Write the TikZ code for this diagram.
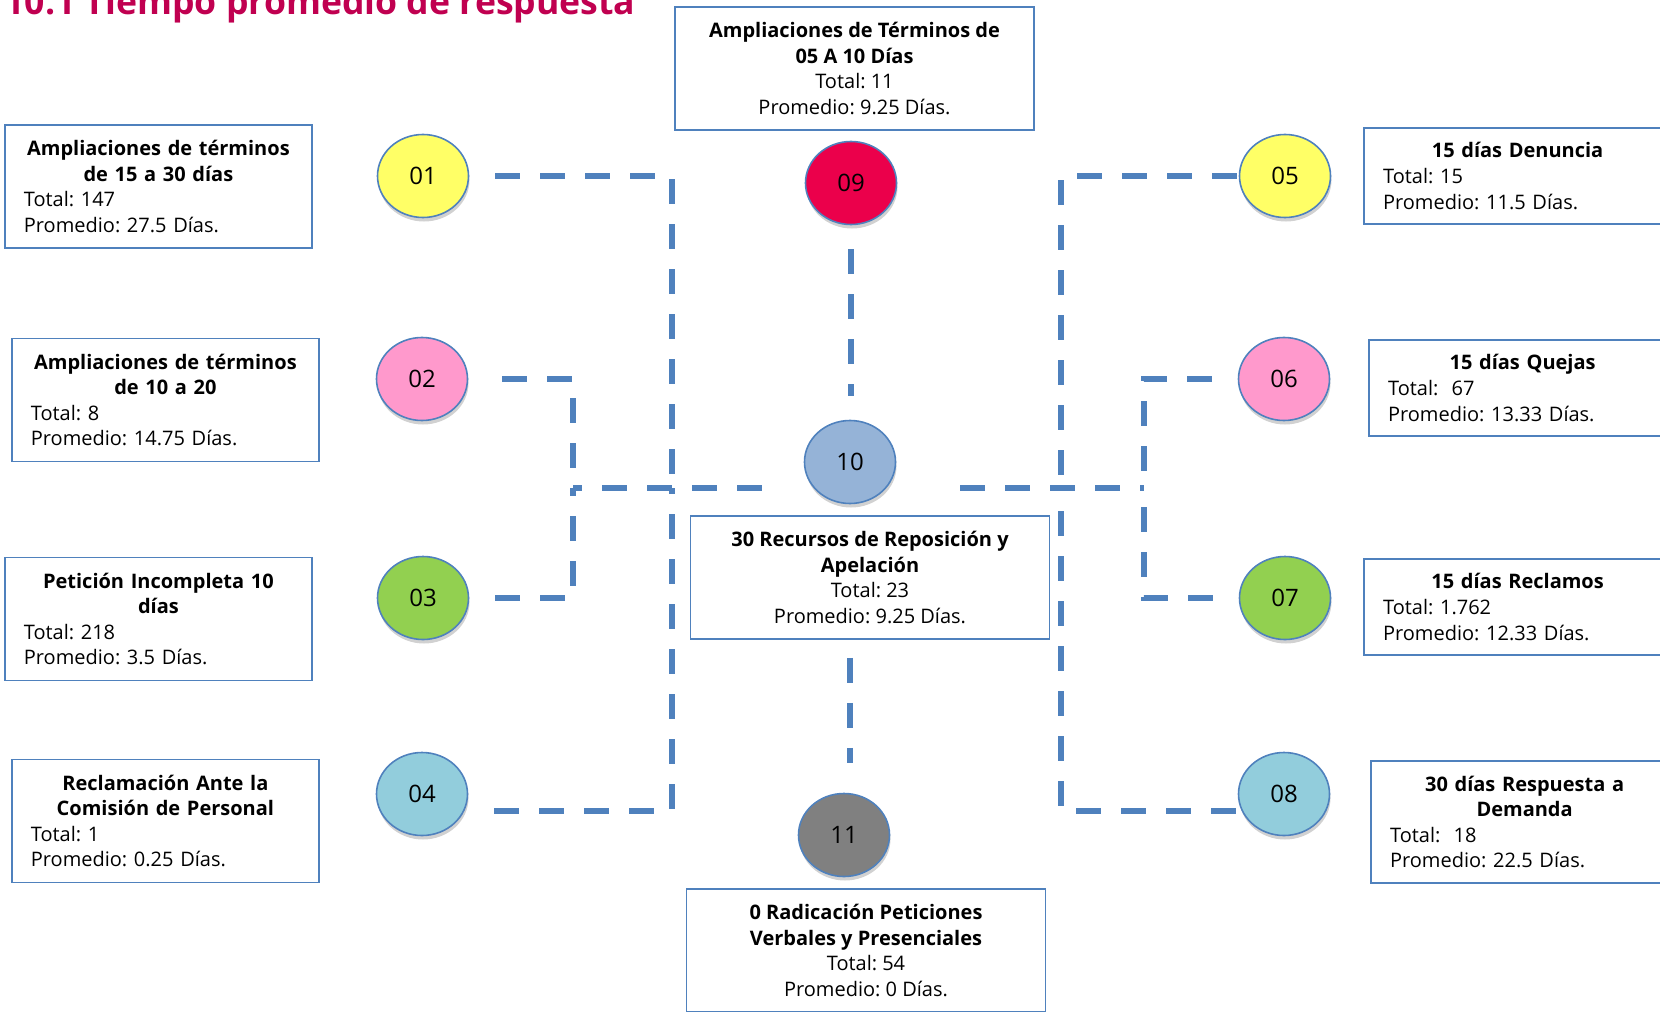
\documentclass[tikz,border=0pt]{standalone}
\usepackage{fontspec}
\setmainfont{Open Sans}
\usepackage{tikz}
\usetikzlibrary{positioning,shapes.geometric,shadows}
\frenchspacing

\definecolor{linkblue}{RGB}{79,129,189}
\definecolor{titlered}{RGB}{192,0,80}
\definecolor{cyellow}{RGB}{255,255,102}
\definecolor{cpink}{RGB}{255,153,204}
\definecolor{cgreen}{RGB}{146,208,80}
\definecolor{clblue}{RGB}{146,205,220}
\definecolor{cred}{RGB}{235,0,75}
\definecolor{csteel}{RGB}{149,179,215}
\definecolor{cgray}{RGB}{128,128,128}

\newcommand{\boxhead}[1]{\noindent\hbox to\hsize{\hss\bfseries #1\hss}\par}

\begin{document}
\begin{tikzpicture}[
    x=0.5pt, y=-0.5pt,
    font=\fontsize{10}{12.8}\selectfont,
    infobox/.style={draw=linkblue, line width=0.8pt, fill=white, text width=134.5pt,
                    inner xsep=9.5pt, align=left, minimum height=61.5pt},
    midbox/.style={draw=linkblue, line width=0.8pt, fill=white, minimum width=179.5pt,
                   minimum height=61.5pt, align=center},
    badge/.style={ellipse, draw=linkblue, line width=0.8pt, minimum width=45.5pt,
                  minimum height=41.5pt, inner sep=0pt, font=\fontsize{12}{14}\selectfont,
                  drop shadow={shadow xshift=0.5pt, shadow yshift=-2pt, opacity=.3, fill=black!60}},
    link/.style={draw=linkblue, line width=3pt, dash pattern=on 12.5pt off 10pt}
]
\useasboundingbox (0,0) rectangle (1660,1012);

\node[anchor=base west, inner sep=0pt, text=titlered,
      font=\fontsize{17.8}{20}\selectfont\bfseries] (title) at (4,14) {10.1 Tiempo promedio de respuesta};

% circles
\node[badge, fill=cyellow] (c01) at (423,176) {01};
\node[badge, fill=cpink]   (c02) at (422,379) {02};
\node[badge, fill=cgreen]  (c03) at (423,598) {03};
\node[badge, fill=clblue]  (c04) at (422,794) {04};
\node[badge, fill=cyellow] (c05) at (1285,176) {05};
\node[badge, fill=cpink]   (c06) at (1284,379) {06};
\node[badge, fill=cgreen]  (c07) at (1285,598) {07};
\node[badge, fill=clblue]  (c08) at (1284,794) {08};
\node[badge, fill=cred]    (c09) at (851,183) {09};
\node[badge, fill=csteel]  (c10) at (850,462) {10};
\node[badge, fill=cgray]   (c11) at (844,835) {11};

% left boxes
\node[infobox, left=32pt of c01, yshift=-5.25pt] (b01)
  {\boxhead{Ampliaciones de términos}\boxhead{de 15 a 30 días}Total: 147\\Promedio: 27.5 Días.};
\node[infobox, left=28pt of c02, yshift=-10.5pt] (b02)
  {\boxhead{Ampliaciones de términos}\boxhead{de 10 a 20}Total: 8\\Promedio: 14.75 Días.};
\node[infobox, left=32pt of c03, yshift=-10.5pt] (b03)
  {\boxhead{Petición Incompleta 10}\boxhead{días}Total: 218\\Promedio: 3.5 Días.};
\node[infobox, left=28pt of c04, yshift=-13.5pt] (b04)
  {\boxhead{Reclamación Ante la}\boxhead{Comisión de Personal}Total: 1\\Promedio: 0.25 Días.};

% right boxes
\node[infobox, right=16pt of c05, minimum height=48pt] (b05)
  {\boxhead{15 días Denuncia}Total: 15\\Promedio: 11.5 Días.};
\node[infobox, right=19pt of c06, yshift=-4.5pt, minimum height=48pt] (b06)
  {\boxhead{15 días Quejas}Total:~ 67\\Promedio: 13.33 Días.};
\node[infobox, right=16pt of c07, yshift=-4.5pt, minimum height=48pt] (b07)
  {\boxhead{15 días Reclamos}Total: 1.762\\Promedio: 12.33 Días.};
\node[infobox, right=20pt of c08, yshift=-14pt, minimum height=61pt] (b08)
  {\boxhead{30 días Respuesta a}\boxhead{Demanda}Total:~ 18\\Promedio: 22.5 Días.};

% centre boxes
\node[midbox] (top) at (854.5,68.5)
  {\textbf{Ampliaciones de Términos de}\\\textbf{05 A 10 Días}\\Total: 11\\Promedio: 9.25 Días.};
\node[midbox] (mid) at (870,577.5)
  {\textbf{30 Recursos de Reposición y}\\\textbf{Apelación}\\Total: 23\\Promedio: 9.25 Días.};
\node[midbox] (bottom) at (866,950.5)
  {\textbf{0 Radicación Peticiones}\\\textbf{Verbales y Presenciales}\\Total: 54\\Promedio: 0 Días.};

% bus joints
\coordinate (lbus) at (672,488);
\coordinate (lbot) at (672,811);
\coordinate (ibus) at (573,488);
\coordinate (rmid) at (1061,488);
\coordinate (rbot) at (1061,811);
\coordinate (rbus) at (1144,488);

\draw[link, shorten <=13pt] (c01.east) -| (lbus);
\draw[link, shorten <=13pt] (c04.east |- lbot) -| (lbus);
\draw[link, shorten <=17pt] (c02.east) -| (ibus);
\draw[link, shorten <=13pt] (c03.east) -| (ibus);
\draw[link, shorten <=21pt] (c10.west |- ibus) -- (ibus);
\draw[link, shorten <=1pt] (c05.west) -| (rmid);
\draw[link, shorten <=1pt] (c08.west |- rbot) -| (rmid);
\draw[link, shorten <=13pt] (c06.west) -| (rbus);
\draw[link, shorten <=13pt] (c07.west) -| (rbus);
\draw[link, shorten <=32pt] (c10.east |- rbus) -- (rbus);
\draw[link, shorten <=12pt, shorten >=12pt] (c09.south) -- (c09.south |- c10.north);
\draw[link, shorten <=9pt, shorten >=15pt] (mid.south -| c10) -- (c11.north -| c10);
\end{tikzpicture}
\end{document}
